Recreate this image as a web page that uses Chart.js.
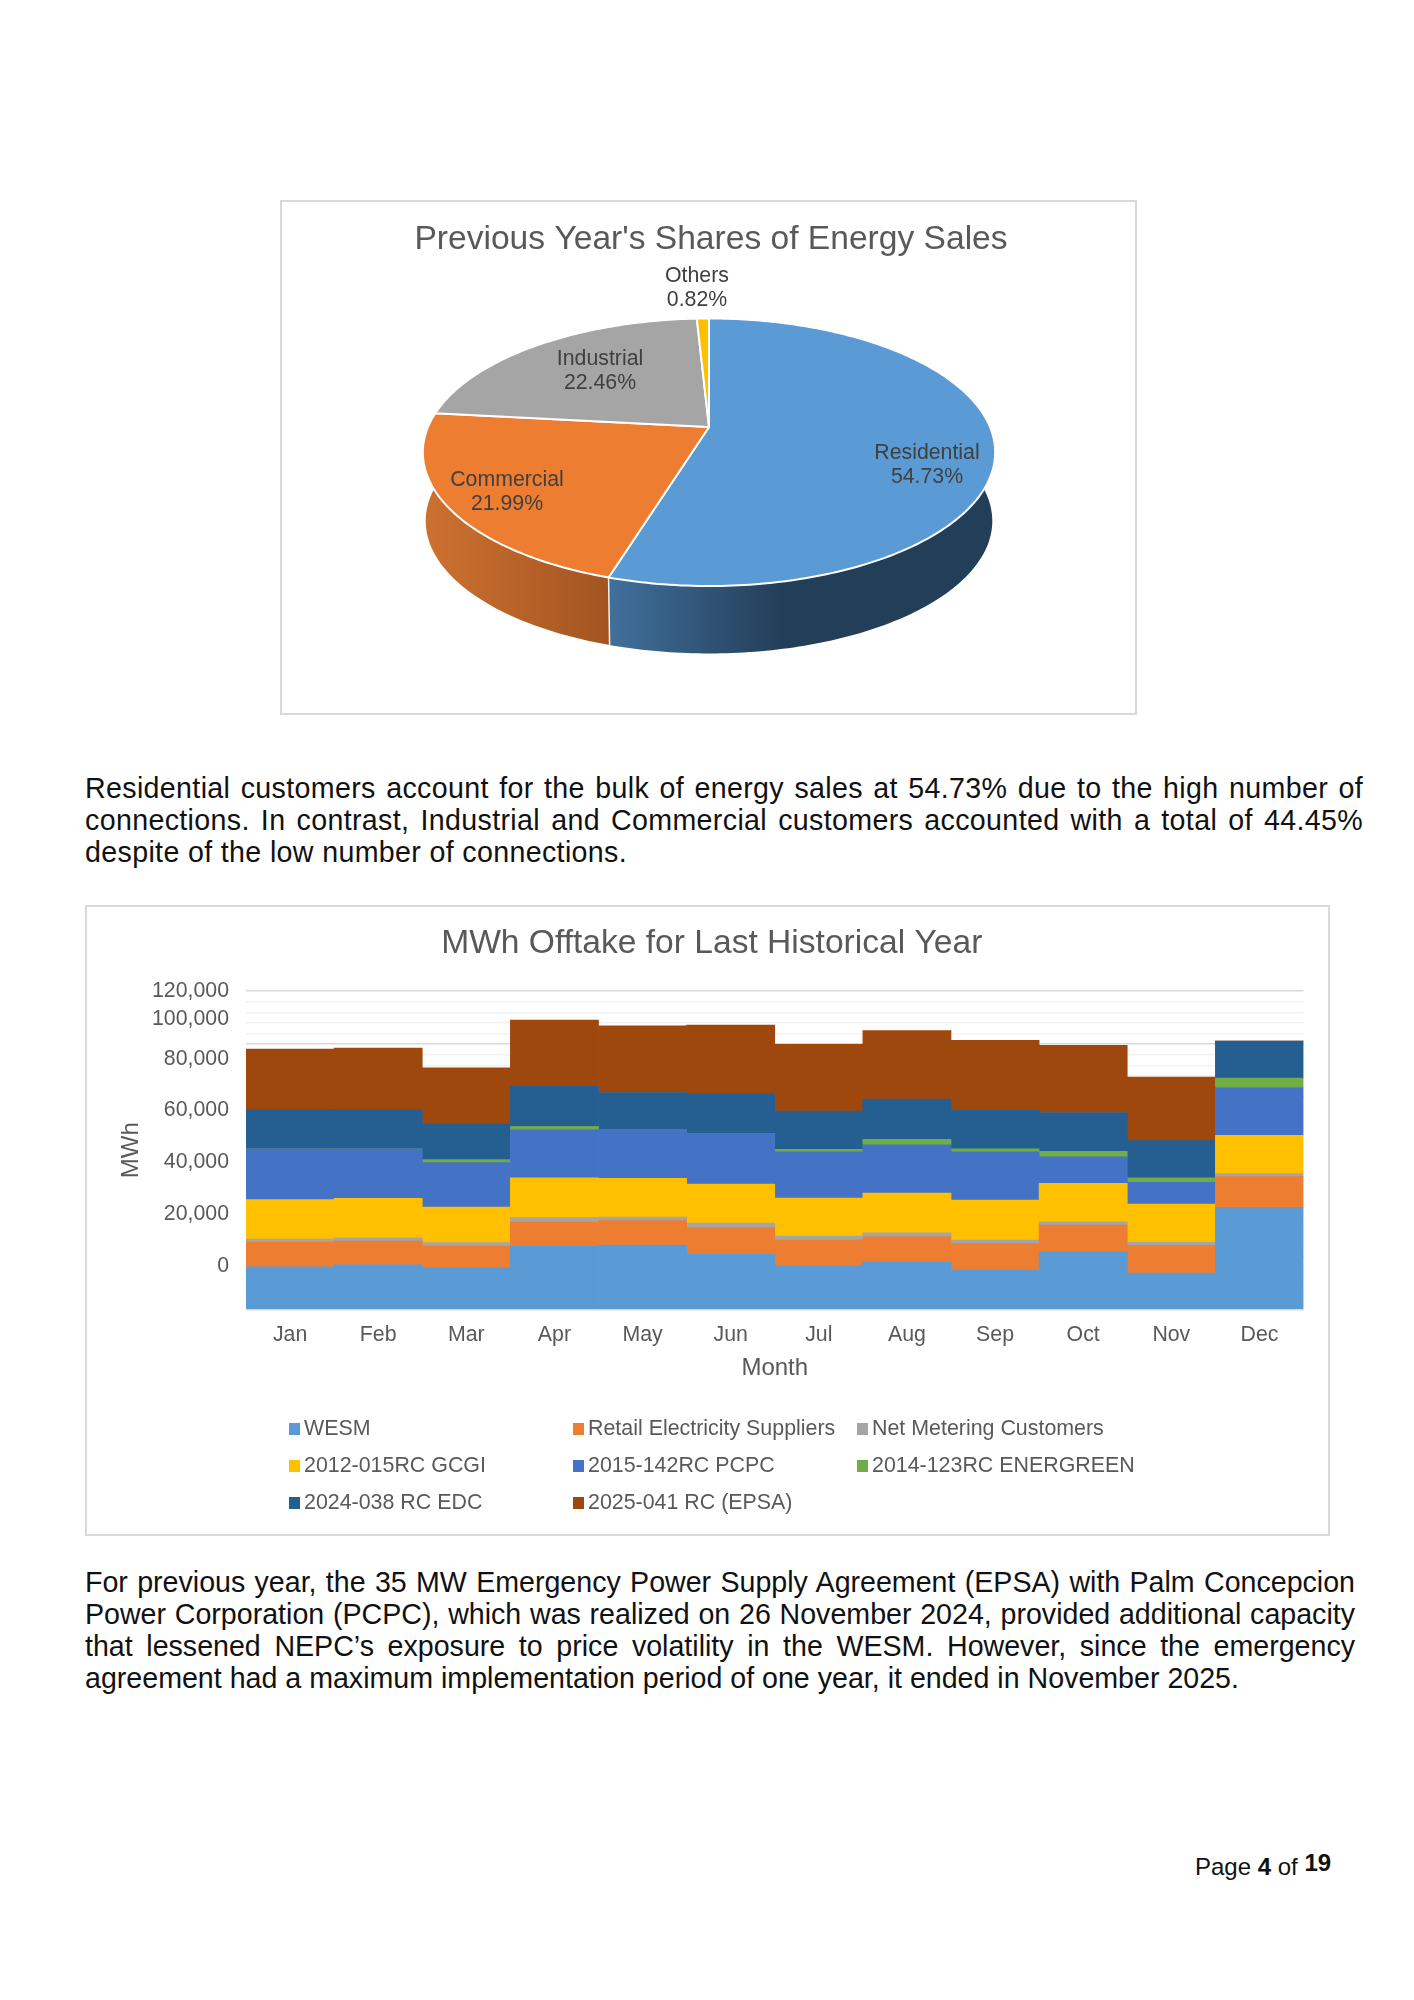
<!DOCTYPE html>
<html>
<head>
<meta charset="utf-8">
<title>Energy sales and MWh offtake</title>
<script src="https://cdn.jsdelivr.net/npm/chart.js@4/dist/chart.umd.js"></script>
<style>
  body { margin: 0; background: #fff; font-family: "Liberation Sans", Arial, sans-serif; color: #111; }
  #page { position: relative; width: 1414px; height: 2000px; overflow: hidden; }
  .box { position: absolute; box-sizing: border-box; border: 2px solid #d9d9d9; }
  canvas { position: absolute; left: 0; top: 0; }
  .para { position: absolute; left: 85px; font-size: 28.6px; line-height: 32px; text-align: justify; margin: 0; }
  #htmlLegend { position: absolute; left: 289px; top: 1410px; display: grid; grid-template-columns: 284px 284px 400px; grid-auto-rows: 37px; }
  .legend-item { display: flex; align-items: center; font-size: 21.4px; color: #595959; white-space: nowrap; }
  .legend-item i { width: 11px; height: 12px; margin-right: 4px; }
  #footer { position: absolute; left: 1195px; top: 1853px; font-size: 24px; white-space: nowrap; }
  #footer span { position: relative; top: -4px; font-size: 24px; font-weight: bold; }
</style>
</head>
<body>
<div id="page">
  <div class="box" style="left:280px;top:200px;width:857px;height:515px"><canvas id="shareChart" width="853" height="511"></canvas></div>
  <p class="para" style="top:772px;width:1278px;letter-spacing:0.35px">Residential customers account for the bulk of energy sales at 54.73% due to the high number of connections. In contrast, Industrial and Commercial customers accounted with a total of 44.45% despite of the low number of connections.</p>
  <div class="box" style="left:85px;top:905px;width:1245px;height:631px"><canvas id="offtakeChart" width="1241" height="627"></canvas></div>
  <div id="htmlLegend"></div>
  <p class="para" style="top:1566px;width:1270px">For previous year, the 35 MW Emergency Power Supply Agreement (EPSA) with Palm Concepcion Power Corporation (PCPC), which was realized on 26 November 2024, provided additional capacity that lessened NEPC’s exposure to price volatility in the WESM. However, since the emergency agreement had a maximum implementation period of one year, it ended in November 2025.</p>
  <div id="footer">Page <b>4</b> of <span>19</span></div>
</div>
<script>
const shareLabels = ['Residential', 'Commercial', 'Industrial', 'Others'];
const shareValues = [54.73, 21.99, 22.46, 0.82];

const months = ['Jan', 'Feb', 'Mar', 'Apr', 'May', 'Jun', 'Jul', 'Aug', 'Sep', 'Oct', 'Nov', 'Dec'];
const wesm = [16100, 16860, 15730, 23780, 24280, 20760, 16480, 17860, 14840, 21760, 13710, 38500];
const retail = [9310, 8930, 8180, 9180, 9180, 10060, 9690, 9560, 10060, 10060, 10440, 11570];
const netMetering = [1130, 1260, 1260, 1640, 1380, 1760, 1510, 1510, 1260, 1260, 1260, 1130];
const gcgi = [14840, 14840, 13460, 14970, 14590, 14720, 14340, 14970, 15100, 14470, 14340, 14470];
const pcpc = [19120, 18620, 16730, 18120, 18240, 18740, 17360, 18120, 18120, 9940, 8180, 17990];
const energreen = [0, 0, 1130, 1260, 0, 130, 1010, 2140, 1130, 2140, 1640, 3520];
const edc = [14720, 14720, 13330, 15100, 14090, 14970, 14340, 15100, 14840, 14590, 14090, 13960];
const epsa = [22900, 23270, 21260, 25030, 25160, 26040, 25160, 25790, 26040, 25290, 23900, 0];

const tickLabels = ['120,000', '100,000', '80,000', '60,000', '40,000', '20,000', '0'];
// the labels do not sit on their gridlines in the original, so they get their own axis
const tickLabelAnchors = [120000, 109300, 94250, 75000, 55540, 36000, 16460];

const textColor = '#595959';
const chartFont = { family: '"Liberation Sans", Arial, sans-serif', size: 21.3 };
const axisTitleFont = { family: '"Liberation Sans", Arial, sans-serif', size: 24 };
const titleFont = { family: '"Liberation Sans", Arial, sans-serif', size: 33.6, weight: 'normal' };

// 3D look for the pie: slices are projected on a tilted disc
const disc = { cx: 427, cy: 225, R: 281, S: 129, p: 0.1888, depth: 69, shrink: 0.99 };
const sliceColors = ['#5b9bd5', '#ed7d31', '#a5a5a5', '#ffc000'];
const wallStops = [
  { from: 327, to: 500, colors: ['#41709c', '#233e58'] },
  { from: 150, to: 330, colors: ['#cc7030', '#a25421'] }
];
const pieLabelPos = [[645, 263], [225, 290], [318, 169], [415, 86]];

function project(angle, dy, k) {
  const u = Math.cos(angle);
  const v = Math.sin(angle);
  const w = 1 - disc.p * v;
  return [disc.cx + disc.R * k * u / w, disc.cy + dy + disc.S * k * v / w];
}

function arcPoints(a0, a1, dy, k) {
  const n = Math.max(2, Math.ceil(Math.abs(a1 - a0) * 60));
  const pts = [];
  for (let i = 0; i <= n; i++) {
    pts.push(project(a0 + (a1 - a0) * i / n, dy, k));
  }
  return pts;
}

function tracePath(ctx, pts) {
  ctx.beginPath();
  pts.forEach((pt, i) => (i ? ctx.lineTo(pt[0], pt[1]) : ctx.moveTo(pt[0], pt[1])));
  ctx.closePath();
}

const pie3d = {
  id: 'pie3d',
  beforeDatasetsDraw(chart) {
    const ctx = chart.ctx;
    const arcs = chart.getDatasetMeta(0).data;
    ctx.save();
    ctx.lineJoin = 'round';

    // side wall first, top surface covers what is behind it
    wallStops.forEach((stop, i) => {
      const top = arcPoints(arcs[i].startAngle, arcs[i].endAngle, 0, 1);
      const bottom = arcPoints(arcs[i].endAngle, arcs[i].startAngle, disc.depth, disc.shrink);
      const grad = ctx.createLinearGradient(stop.from, 0, stop.to, 0);
      grad.addColorStop(0, stop.colors[0]);
      grad.addColorStop(1, stop.colors[1]);
      tracePath(ctx, top.concat(bottom));
      ctx.fillStyle = grad;
      ctx.fill();
    });
    const seamTop = project(arcs[0].endAngle, 0, 1);
    const seamBottom = project(arcs[0].endAngle, disc.depth, disc.shrink);
    ctx.strokeStyle = '#f4f1ec';
    ctx.lineWidth = 1.5;
    ctx.beginPath();
    ctx.moveTo(seamTop[0], seamTop[1]);
    ctx.lineTo(seamBottom[0], seamBottom[1]);
    ctx.stroke();

    arcs.forEach((arc, i) => {
      const pts = arcPoints(arc.startAngle, arc.endAngle, 0, 1);
      pts.unshift(project(0, 0, 0));
      tracePath(ctx, pts);
      ctx.fillStyle = sliceColors[i];
      ctx.fill();
      ctx.strokeStyle = '#ffffff';
      ctx.lineWidth = 2;
      ctx.stroke();
    });

    ctx.fillStyle = '#404040';
    ctx.font = '21.3px "Liberation Sans", Arial, sans-serif';
    ctx.textAlign = 'center';
    ctx.textBaseline = 'middle';
    shareLabels.forEach((name, i) => {
      ctx.fillText(name, pieLabelPos[i][0], pieLabelPos[i][1] - 12);
      ctx.fillText(shareValues[i].toFixed(2) + '%', pieLabelPos[i][0], pieLabelPos[i][1] + 12);
    });
    ctx.restore();
    return false;
  }
};

new Chart(document.getElementById('shareChart').getContext('2d'), {
  type: 'pie',
  data: {
    labels: shareLabels,
    datasets: [{ data: shareValues, backgroundColor: sliceColors }]
  },
  options: {
    responsive: false,
    animation: false,
    layout: { padding: { left: 5 } },
    plugins: {
      legend: { display: false },
      tooltip: { enabled: false },
      title: { display: true, text: "Previous Year's Shares of Energy Sales", color: textColor, font: titleFont, padding: { top: 18, bottom: 10 } }
    }
  },
  plugins: [pie3d]
});

const offtakeChart = new Chart(document.getElementById('offtakeChart').getContext('2d'), {
  type: 'bar',
  data: {
    labels: months,
    datasets: [
      { label: 'WESM', data: wesm, backgroundColor: '#5b9bd5' },
      { label: 'Retail Electricity Suppliers', data: retail, backgroundColor: '#ed7d31' },
      { label: 'Net Metering Customers', data: netMetering, backgroundColor: '#a5a5a5' },
      { label: '2012-015RC GCGI', data: gcgi, backgroundColor: '#ffc000' },
      { label: '2015-142RC PCPC', data: pcpc, backgroundColor: '#4472c4' },
      { label: '2014-123RC ENERGREEN', data: energreen, backgroundColor: '#70ad47' },
      { label: '2024-038 RC EDC', data: edc, backgroundColor: '#255e91' },
      { label: '2025-041 RC (EPSA)', data: epsa, backgroundColor: '#9e480e' }
    ]
  },
  options: {
    responsive: false,
    animation: false,
    barPercentage: 1,
    categoryPercentage: 1,
    layout: { padding: { left: 33, right: 24.5, bottom: 148.5 } },
    plugins: {
      legend: { display: false },
      tooltip: { enabled: false },
      title: { display: true, text: 'MWh Offtake for Last Historical Year', color: textColor, font: titleFont, padding: { top: 16.5, bottom: 27.2 } }
    },
    scales: {
      x: {
        stacked: true,
        grid: { display: false },
        border: { color: '#d9d9d9' },
        ticks: { color: textColor, font: chartFont, padding: 5, maxRotation: 0 },
        title: { display: true, text: 'Month', color: textColor, font: axisTitleFont, padding: { top: 3, bottom: 3 } },
        afterFit(scale) { scale.height = 76; }
      },
      y: {
        stacked: true,
        min: 0,
        max: 120000,
        ticks: { display: false, stepSize: 4000 },
        border: { display: false },
        grid: {
          drawTicks: false,
          lineWidth: 1.5,
          color(c) { return c.tick.value % 20000 === 0 ? '#d9d9d9' : '#f2f2f2'; }
        },
        afterFit(scale) { scale.width = 0; }
      },
      yLabels: {
        position: 'left',
        min: 0,
        max: 120000,
        grid: { display: false },
        border: { display: false },
        afterBuildTicks(scale) {
          scale.ticks = tickLabelAnchors.map(v => ({ value: v }));
        },
        ticks: {
          color: textColor,
          font: chartFont,
          padding: 9,
          autoSkip: false,
          callback(value, index) { return tickLabels[index]; }
        },
        title: { display: true, text: 'MWh', color: textColor, font: axisTitleFont, padding: { top: -3, bottom: 0 } },
        afterFit(scale) { scale.width = 126; }
      }
    }
  }
});

// legend keeps fixed columns like the original, the built-in one cannot do that
const legendBox = document.getElementById('htmlLegend');
offtakeChart.data.datasets.forEach(ds => {
  const item = document.createElement('div');
  item.className = 'legend-item';
  const swatch = document.createElement('i');
  swatch.style.background = ds.backgroundColor;
  item.appendChild(swatch);
  item.appendChild(document.createTextNode(ds.label));
  legendBox.appendChild(item);
});
</script>
</body>
</html>
